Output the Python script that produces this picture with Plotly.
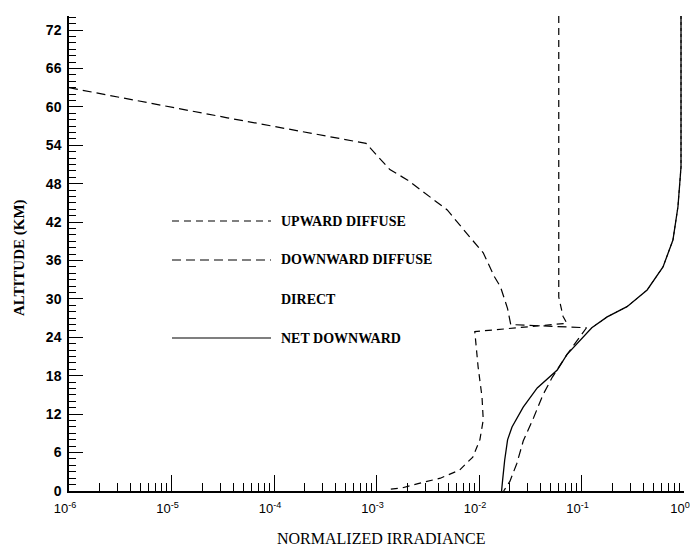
import plotly.graph_objects as go

# ---- data ----
down_alt = [63.0, 58.3, 54.3, 51.7, 50.2, 48.6, 45.9, 43.9, 39.7, 37.2, 33.5, 31.9, 28.5, 26.0,
            25.5, 21.3, 17.8, 15.0, 11.4, 7.8, 4.3, 1.5, 0.0]
down_x = [1.0e-6, 3.5e-5, 7.9e-4, 1.12e-3, 1.35e-3, 2.0e-3, 3.3e-3, 4.9e-3, 8.1e-3, 1.1e-2, 1.41e-2,
          1.62e-2, 1.9e-2, 2.04e-2, 0.112, 0.072, 0.052, 0.042, 0.034, 0.027, 0.0234, 0.020, 0.0174]

up_alt = [74.2, 50.0, 34.0, 30.3, 27.3, 26.2, 24.9, 19.4, 14.7, 11.1, 8.0, 5.3, 3.3, 2.0, 1.2, 0.5, 0.2]
up_x = [0.060, 0.060, 0.059, 0.060, 0.066, 0.072, 0.0091, 0.0098, 0.0107, 0.0110, 0.0102, 0.0087,
        0.0065, 0.0042, 0.0026, 0.0018, 0.00125]

net_alt = [74.2, 50.6, 44.4, 39.2, 35.0, 31.4, 28.8, 27.2, 25.5, 21.3, 18.9, 16.1, 13.1, 10.0, 8.0,
           4.8, 1.7, 0.0]
net_x = [0.935, 0.935, 0.873, 0.78, 0.624, 0.437, 0.278, 0.178, 0.126, 0.072, 0.058, 0.037, 0.027,
         0.021, 0.019, 0.0178, 0.017, 0.0166]

direct_alt = [74.2, 50.6, 44.4, 39.2, 35.0, 31.4, 28.8, 27.2, 25.5]
direct_x = [0.935, 0.935, 0.873, 0.78, 0.624, 0.437, 0.278, 0.178, 0.126]

x_tickvals = [1e-6, 1e-5, 1e-4, 1e-3, 1e-2, 1e-1, 1]
x_ticktext = ["10<sup>-6</sup>", "10<sup>-5</sup>", "10<sup>-4</sup>", "10<sup>-3</sup>",
              "10<sup>-2</sup>", "10<sup>-1</sup>", "10<sup>0</sup>"]
x_minor_vals = [m * d for d in [1e-6, 1e-5, 1e-4, 1e-3, 1e-2, 1e-1] for m in range(2, 10)]
y_tickvals = list(range(0, 73, 6))
y_minor_vals = list(range(0, 75, 1))

legend_names = ["UPWARD DIFFUSE", "DOWNWARD DIFFUSE", "DIRECT", "NET DOWNWARD"]
x_title = "NORMALIZED IRRADIANCE"
y_title = "ALTITUDE (KM)"

# page is offset by the default 8px body margin
OFF = 8
W, H = 698 - OFF, 550 - OFF
L, R, B, T = 69 - OFF, 684 - OFF, 491 - OFF, 16 - OFF

def px(xp):
    return (xp - OFF - L) / (R - L)
def py(yp):
    return (B - (yp - OFF)) / (B - T)

fig = go.Figure()
fig.add_trace(go.Scatter(x=up_x, y=up_alt, mode="lines", name=legend_names[0],
                         line=dict(color="black", width=1.2, dash="7px,5px")))
fig.add_trace(go.Scatter(x=down_x, y=down_alt, mode="lines", name=legend_names[1],
                         line=dict(color="black", width=1.2, dash="9px,5px")))
fig.add_trace(go.Scatter(x=direct_x, y=direct_alt, mode="lines", name=legend_names[2],
                         line=dict(color="black", width=1, dash="dot")))
fig.add_trace(go.Scatter(x=net_x, y=net_alt, mode="lines", name=legend_names[3],
                         line=dict(color="black", width=1.3)))

# manual legend (line samples + labels), page pixel positions
rows = [221, 260, 299, 338]
samples = [dict(color="black", width=1.2, dash="7px,5px"),
           dict(color="black", width=1.2, dash="9px,5px"),
           None,
           dict(color="black", width=1.2)]
for name, yy, ln in zip(legend_names, rows, samples):
    if ln is not None:
        fig.add_shape(type="line", xref="paper", yref="paper",
                      x0=px(172), x1=px(271), y0=py(yy), y1=py(yy), line=ln)
    fig.add_annotation(xref="paper", yref="paper", x=px(279), y=py(yy), text=name,
                       showarrow=False, xanchor="left", yanchor="middle",
                       font=dict(family="Liberation Serif", size=14, color="black",
                                 weight="bold"))

fig.add_annotation(xref="paper", yref="paper", x=px(381), y=py(538), text=x_title,
                   showarrow=False, xanchor="center", yanchor="middle",
                   font=dict(family="Liberation Serif", size=16, color="black"))
fig.add_annotation(xref="paper", yref="paper", x=px(19), y=py(258), text=y_title,
                   showarrow=False, xanchor="center", yanchor="middle", textangle=-90,
                   font=dict(family="Liberation Serif", size=15, color="black", weight="bold"))

fig.update_layout(
    width=W, height=H,
    margin=dict(l=L, r=W - R, t=T, b=H - B, autoexpand=False),
    paper_bgcolor="white", plot_bgcolor="white",
    showlegend=False,
    xaxis=dict(type="log", range=[-6, 0], showline=True, linecolor="black", linewidth=1.5,
               automargin=False,
               showgrid=False, zeroline=False, ticks="inside", ticklen=16, tickwidth=1,
               tickcolor="black", tickvals=x_tickvals, ticktext=x_ticktext,
               ticklabelstandoff=5, ticklabelshift=-4,
               tickfont=dict(family="Liberation Sans", size=13, color="black"),
               minor=dict(ticks="inside", ticklen=8, tickwidth=1, tickcolor="black",
                          tickvals=x_minor_vals, showgrid=False)),
    yaxis=dict(range=[0, 74.2], showline=True, linecolor="black", linewidth=1.5,
               automargin=False,
               showgrid=False, zeroline=False, ticks="inside", ticklen=14, tickwidth=1.3,
               tickcolor="black", tickvals=y_tickvals, ticklabelstandoff=3,
               tickfont=dict(family="Liberation Sans", size=14, color="black", weight="bold"),
               minor=dict(ticks="inside", ticklen=7, tickwidth=1, tickcolor="black",
                          tickvals=y_minor_vals, showgrid=False)),
)

fig.write_html("out.html")
